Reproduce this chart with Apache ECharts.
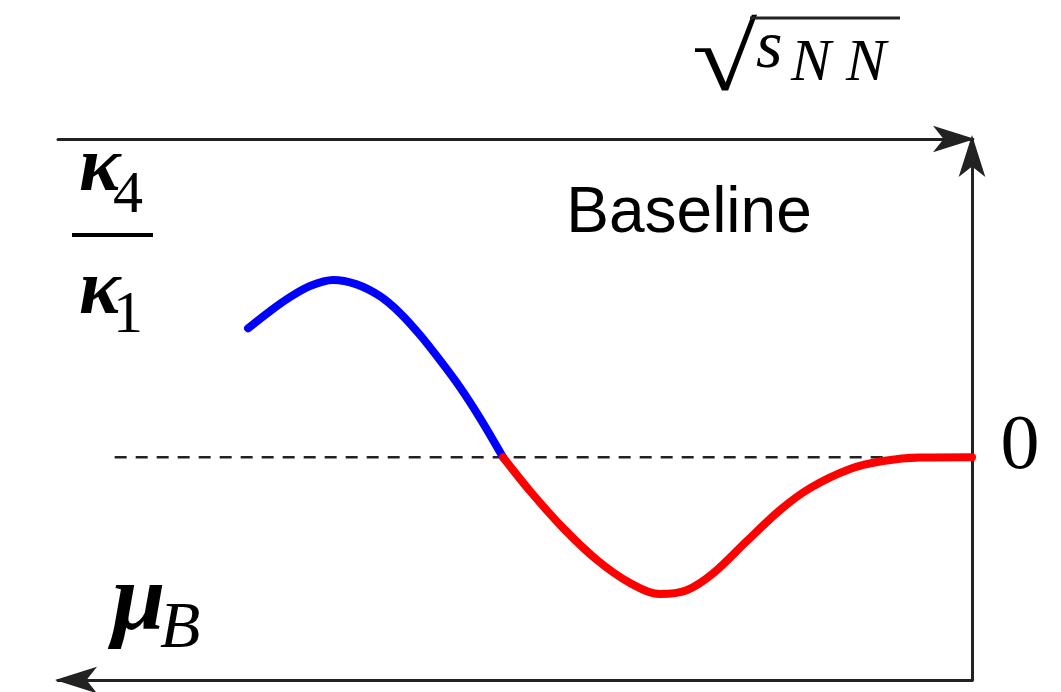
<!DOCTYPE html>
<html>
<head>
<meta charset="utf-8">
<script src="https://cdn.jsdelivr.net/npm/echarts@6/dist/echarts.min.js"></script>
<style>
  html, body { margin: 0; padding: 0; background: #fff; }
  #chart { width: 1061px; height: 692px; }
</style>
</head>
<body>
<div id="chart"></div>
<script>
// Schematic kappa4/kappa1 vs sqrt(s_NN) (arbitrary units)
const blueX = [20.79, 23.19, 25.38, 27.57, 30.09, 32.60, 35.23, 37.42, 39.61, 41.79, 43.98, 46.17, 48.69];
const blueY = [4.05, 4.59, 5.03, 5.38, 5.57, 5.44, 5.06, 4.53, 3.84, 3.05, 2.20, 1.23, 0.0];
const redX = [48.69, 51.64, 55.25, 58.97, 62.58, 65.86, 68.78, 71.67, 75.38, 78.99, 82.28, 86.65, 90.26, 94.31, 100];
const redY = [0.0, -1.06, -2.22, -3.23, -3.95, -4.30, -4.18, -3.65, -2.63, -1.66, -0.97, -0.37, -0.12, -0.01, 0.0];
const baselineX = [6.2, 100];
const baselineY = [0, 0];
const zeroLabel = '0';
const titleText = 'Baseline';

const zip = (xs, ys) => xs.map((x, i) => [x, ys[i]]);

const chart = echarts.init(document.getElementById('chart'), null, { renderer: 'canvas' });

const axisColor = '#222';

const option = {
  backgroundColor: '#ffffff',
  animation: false,
  grid: { left: 58, right: 89, top: 139, bottom: 12, containLabel: false },
  xAxis: [
    {
      type: 'value', position: 'top', min: 0, max: 100,
      axisLine: { show: true, onZero: false, symbol: ['none', 'arrow'], symbolSize: [20, 42], symbolOffset: [0, 3],
        lineStyle: { color: axisColor, width: 3 } },
      axisTick: { show: false }, axisLabel: { show: false }, splitLine: { show: false }
    },
    {
      type: 'value', position: 'bottom', min: 0, max: 100,
      axisLine: { show: true, onZero: false, symbol: ['arrow', 'none'], symbolSize: [20, 42], symbolOffset: [-3, 0],
        lineStyle: { color: axisColor, width: 3 } },
      axisTick: { show: false }, axisLabel: { show: false }, splitLine: { show: false }
    }
  ],
  yAxis: {
    type: 'value', position: 'right', min: -7, max: 10,
    axisLine: { show: true, onZero: false, symbol: ['none', 'arrow'], symbolSize: [20, 42], symbolOffset: [0, 4],
      lineStyle: { color: axisColor, width: 3 } },
    axisTick: { show: false }, axisLabel: { show: false }, splitLine: { show: false }
  },
  series: [
    {
      type: 'line', name: 'zero', data: zip(baselineX, baselineY), symbol: 'none', z: 1,
      lineStyle: { color: '#222', width: 2.5, type: [12, 9] }
    },
    {
      type: 'line', name: 'blue', data: zip(blueX, blueY), symbol: 'none', smooth: 0.33, z: 3,
      lineStyle: { color: '#0000ff', width: 8, cap: 'round', join: 'round' }
    },
    {
      type: 'line', name: 'red', data: zip(redX, redY), symbol: 'none', smooth: 0.33, z: 3,
      lineStyle: { color: '#ff0000', width: 8, cap: 'round', join: 'round' }
    }
  ],
  graphic: [
    { type: 'text', x: 689, y: 214, style: { text: titleText, font: '64px "Liberation Sans"', fill: '#000', align: 'center', verticalAlign: 'middle' } },
    { type: 'text', x: 1020, y: 448, style: { text: zeroLabel, font: '78px "Liberation Serif"', fill: '#000', align: 'center', verticalAlign: 'middle' } },
    // kappa4 / kappa1
    { type: 'text', x: 79, y: 170, style: { text: 'κ', font: 'italic bold 78px "Liberation Serif"', fill: '#000', align: 'left', verticalAlign: 'middle' } },
    { type: 'text', x: 113, y: 196, style: { text: '4', font: '60px "Liberation Serif"', fill: '#000', align: 'left', verticalAlign: 'middle' } },
    { type: 'line', shape: { x1: 72, y1: 235, x2: 153, y2: 235 }, style: { stroke: '#000', lineWidth: 4 } },
    { type: 'text', x: 79, y: 293, style: { text: 'κ', font: 'italic bold 78px "Liberation Serif"', fill: '#000', align: 'left', verticalAlign: 'middle' } },
    { type: 'text', x: 113, y: 316, style: { text: '1', font: '60px "Liberation Serif"', fill: '#000', align: 'left', verticalAlign: 'middle' } },
    // mu_B
    { type: 'text', x: 112, y: 604, style: { text: 'μ', font: 'italic bold 96px "Liberation Serif"', fill: '#000', align: 'left', verticalAlign: 'middle' } },
    { type: 'text', x: 160, y: 630, style: { text: 'B', font: 'italic 66px "Liberation Serif"', fill: '#000', align: 'left', verticalAlign: 'middle' } },
    // sqrt(s_NN)
    { type: 'text', x: 692, y: 65, scaleX: 1.25, style: { text: '√', font: '95px "Liberation Serif"', fill: '#000', align: 'left', verticalAlign: 'middle' } },
    { type: 'line', shape: { x1: 750, y1: 18, x2: 900, y2: 18 }, style: { stroke: '#222', lineWidth: 3 } },
    { type: 'text', x: 756, y: 49, style: { text: 's', font: 'italic 68px "Liberation Serif"', fill: '#000', align: 'left', verticalAlign: 'middle' } },
    { type: 'text', x: 791, y: 64, style: { text: 'N N', font: 'italic 60px "Liberation Serif"', fill: '#000', align: 'left', verticalAlign: 'middle' } }
  ]
};

chart.setOption(option);
</script>
</body>
</html>
